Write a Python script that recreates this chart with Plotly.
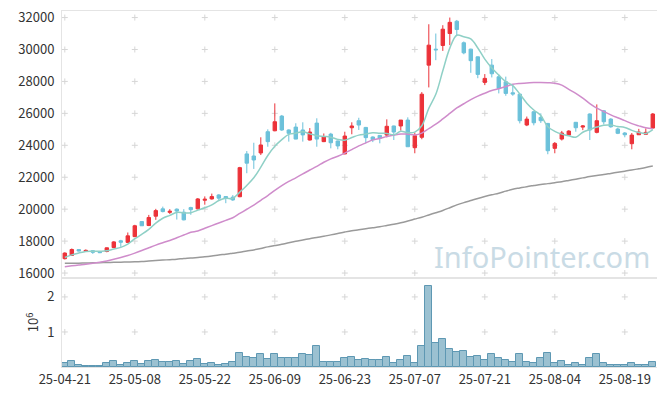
import plotly.graph_objects as go
import pandas as pd

dates = ["25-04-21","25-04-22","25-04-23","25-04-24","25-04-25","25-04-28","25-04-29","25-04-30","25-05-02",
         "25-05-07","25-05-08","25-05-09","25-05-12","25-05-13","25-05-14","25-05-15","25-05-16",
         "25-05-19","25-05-20","25-05-21","25-05-22","25-05-23","25-05-26","25-05-27","25-05-28","25-05-29","25-05-30",
         "25-06-02","25-06-04","25-06-05","25-06-09","25-06-10","25-06-11","25-06-12","25-06-13",
         "25-06-16","25-06-17","25-06-18","25-06-19","25-06-20","25-06-23","25-06-24","25-06-25","25-06-26","25-06-27",
         "25-06-30","25-07-01","25-07-02","25-07-03","25-07-04","25-07-07","25-07-08","25-07-09","25-07-10","25-07-11",
         "25-07-14","25-07-15","25-07-16","25-07-17","25-07-18","25-07-21","25-07-22","25-07-23","25-07-24","25-07-25",
         "25-07-28","25-07-29","25-07-30","25-07-31","25-08-01","25-08-04","25-08-05","25-08-06","25-08-07","25-08-08",
         "25-08-11","25-08-12","25-08-13","25-08-14","25-08-18","25-08-19","25-08-20","25-08-21","25-08-22","25-08-25"]

open_ = [16900,17100,17470,17350,17400,17330,17350,17600,18020,17920,
         18280,19225,18975,19560,20020,19800,20000,19810,20100,20020,
         20560,20640,20890,20790,20750,20780,23460,23330,23520,24850,
         24910,25830,24960,25140,24960,24330,25390,24230,24700,24270,
         23460,25100,25540,25120,24520,24620,24640,25210,25210,25580,
         23850,24500,29020,30020,30250,31000,31770,30420,30020,29540,
         27940,29020,28290,27980,27290,27200,25270,26100,25750,25370,
         23810,24390,24640,25440,25140,25960,24810,26160,25640,25020,
         24770,24100,24660,24690,25080]
high = [17300,17540,17500,17480,17430,17380,17600,18000,18080,18540,
        19020,19260,19640,20020,20160,20000,20050,20000,20150,20700,
        20800,20975,20940,20820,20880,22650,23640,24160,24500,25000,
        26625,25900,25000,25380,25440,25080,25690,24740,24780,24300,
        24850,25440,25725,25150,24560,24640,25625,25230,25580,25750,
        24790,27330,31580,31000,31520,32000,31850,30500,30050,29560,
        28460,29400,28430,28300,27750,27220,25800,26130,26000,25400,
        24200,24900,24950,25460,25270,26000,26560,26200,25700,25100,
        24830,24770,25030,25060,26020]
low = [16850,17080,17350,17320,17200,17250,17300,17560,17640,17880,
       18250,18950,18940,19330,19800,19700,19350,19300,19650,19980,
       20280,20600,20580,20375,20520,20750,22250,22520,23390,23910,
       24880,24900,24230,24380,24230,24300,23910,24200,23810,23750,
       23440,24690,24960,24125,24200,24125,24500,24330,24920,23910,
       23500,24380,27625,29330,29910,30270,30900,29700,28540,28200,
       27770,28250,27250,27100,27100,25370,25200,25250,25400,23440,
       23500,24300,24580,24850,24950,24330,24750,25300,25100,24700,
       24500,23750,24650,24680,25050]
close = [17250,17475,17380,17420,17300,17280,17580,17950,17930,18330,
         18960,18960,19480,19910,19850,19870,19880,19330,19970,20640,
         20620,20790,20690,20690,20580,22600,22880,23080,24020,24230,
         25475,24960,24750,24390,24650,24830,24390,24520,24160,23960,
         24580,25210,25270,24480,24350,24440,25190,24830,25580,23910,
         24600,27200,30270,29980,31270,31700,31250,29790,29300,28440,
         28190,28480,27560,27250,27210,25540,25640,25410,25540,23660,
         24120,24770,24890,25100,25210,24960,25540,25475,25160,24750,
         24660,24640,24830,24810,25960]

# volume in millions of shares
volume = [0.114,0.18,0.067,0.03,0.03,0.03,0.114,0.18,0.057,0.114,
          0.18,0.095,0.18,0.21,0.15,0.15,0.18,0.086,0.18,0.23,
          0.095,0.114,0.067,0.086,0.15,0.41,0.286,0.267,0.37,0.24,
          0.37,0.267,0.267,0.267,0.37,0.35,0.60,0.15,0.15,0.15,
          0.257,0.286,0.21,0.23,0.21,0.21,0.286,0.114,0.21,0.314,
          0.114,0.60,2.32,0.695,0.80,0.514,0.438,0.467,0.295,0.314,
          0.21,0.37,0.257,0.21,0.15,0.37,0.15,0.114,0.257,0.40,
          0.114,0.18,0.057,0.114,0.057,0.257,0.37,0.114,0.057,0.057,
          0.057,0.114,0.057,0.057,0.143]

# moving-average values before enough history is visible
ma5_head = [16975, 17140, 17250, 17350]
ma20_head = [16400, 16450, 16500, 16550, 16610, 16680, 16760, 16860, 16970, 17100,
             17250, 17410, 17580, 17750, 17900, 18040, 18210, 18380, 18550]
ma120 = [16610,16615,16620,16630,16640,16650,16660,16670,16680,16690,
         16700,16720,16750,16780,16810,16840,16870,16910,16940,16980,
         17020,17070,17130,17180,17240,17300,17380,17450,17540,17640,
         17720,17800,17900,17990,18070,18150,18230,18300,18390,18480,
         18570,18650,18710,18780,18840,18900,18980,19060,19150,19260,
         19380,19500,19640,19780,19920,20090,20270,20410,20540,20670,
         20790,20900,21000,21130,21250,21330,21410,21480,21550,21600,
         21660,21720,21800,21880,21960,22040,22110,22170,22240,22310,
         22380,22450,22530,22610,22700]

x_tick_labels = ["25-04-21","25-05-08","25-05-22","25-06-09","25-06-23",
                 "25-07-07","25-07-21","25-08-04","25-08-19"]
price_ticks = [16000,18000,20000,22000,24000,26000,28000,30000,32000]
vol_ticks = [1, 2]

cs = pd.Series(close)
ma5 = ma5_head + cs.rolling(5).mean().tolist()[4:]
ma20 = ma20_head + cs.rolling(20).mean().tolist()[19:]

UP = "#ec3239"
DOWN = "#6cc1da"
GRID = "#d6d6d6"
FRAME = "#e4e4e4"
FONT = "Noto Sans CJK KR, Noto Sans, sans-serif"

fig = go.Figure()

fig.add_trace(go.Candlestick(
    x=dates, open=open_, high=high, low=low, close=close,
    xaxis="x", yaxis="y",
    increasing=dict(line=dict(color=UP, width=1), fillcolor=UP),
    decreasing=dict(line=dict(color=DOWN, width=1), fillcolor=DOWN),
    showlegend=False))

fig.add_trace(go.Bar(x=dates, y=volume, xaxis="x2", yaxis="y2",
                     marker=dict(color="#9bc1d1", line=dict(color="#5e98b3", width=1)),
                     showlegend=False))

fig.add_trace(go.Scatter(x=dates, y=ma120, mode="lines", xaxis="x", yaxis="y",
                         line=dict(color="#9a9a9a", width=1.5, shape="spline"), showlegend=False))
fig.add_trace(go.Scatter(x=dates, y=ma20, mode="lines", xaxis="x", yaxis="y",
                         line=dict(color="#cf8ccb", width=1.5, shape="spline"), showlegend=False))
fig.add_trace(go.Scatter(x=dates, y=ma5, mode="lines", xaxis="x", yaxis="y",
                         line=dict(color="#8fd0c6", width=1.5, shape="spline"), showlegend=False))

# small "+" grid marks at tick intersections, drawn below the data
shapes = []
def cross(xr, yr, xv, yv):
    shapes.append(dict(type="line", xref=xr, yref=yr, layer="below",
                       xsizemode="pixel", xanchor=xv, x0=-3, x1=3,
                       y0=yv, y1=yv, line=dict(color=GRID, width=1)))
    shapes.append(dict(type="line", xref=xr, yref=yr, layer="below",
                       ysizemode="pixel", yanchor=yv, y0=-3, y1=3,
                       x0=xv, x1=xv, line=dict(color=GRID, width=1)))
for d in x_tick_labels:
    xi = dates.index(d)
    for p in price_ticks:
        cross("x", "y", xi, p)
    for v in vol_ticks:
        cross("x2", "y2", xi, v)

axis_common = dict(showline=True, mirror=True, linecolor=FRAME, linewidth=1,
                   showgrid=False, zeroline=False, automargin=False,
                   ticklabeloverflow="allow")

fig.update_layout(
    width=657, height=388,
    margin=dict(l=54, r=8, t=3, b=29),
    paper_bgcolor="white", plot_bgcolor="white",
    font=dict(family=FONT, size=13, color="#333333"),
    bargap=0,
    shapes=shapes,
    xaxis=dict(domain=[0, 1], anchor="y", type="category",
               categoryorder="array", categoryarray=dates, range=[-0.4, 84.6],
               showticklabels=False, tickvals=x_tick_labels, ticks="",
               rangeslider=dict(visible=False), **axis_common),
    yaxis=dict(domain=[0.25, 1], anchor="x", range=[15690, 32410],
               tickvals=price_ticks, tickformat="d", ticks="outside", ticklen=4,
               tickcolor="rgba(0,0,0,0)", **axis_common),
    xaxis2=dict(domain=[0, 1], anchor="y2", type="category",
                categoryorder="array", categoryarray=dates, range=[-0.4, 84.6],
                matches="x", tickvals=x_tick_labels, ticktext=x_tick_labels,
                tickangle=0, ticks="", **axis_common),
    yaxis2=dict(domain=[0, 0.25], anchor="x2", range=[0, 2.54],
                tickvals=vol_ticks, ticks="outside", ticklen=4,
                tickcolor="rgba(0,0,0,0)",
                title=dict(text="10<sup>6</sup>", standoff=5, font=dict(size=13)),
                **axis_common),
    annotations=[dict(text="InfoPointer.com", xref="paper", yref="paper",
                      x=0.806, y=0.31, xanchor="center", yanchor="middle",
                      showarrow=False,
                      font=dict(family="Noto Sans, sans-serif", size=29, color="#c9dbe5"))],
)

fig.write_html("out.html")
